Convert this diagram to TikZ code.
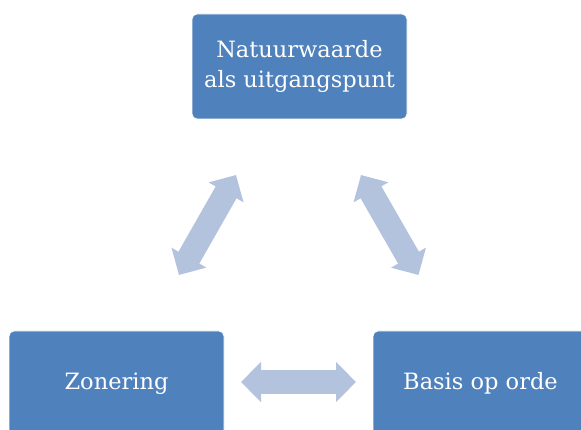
\documentclass[tikz,border=0pt]{standalone}
\usepackage{fontspec}
\setmainfont{DejaVu Serif}
\usetikzlibrary{arrows.meta}
\definecolor{boxblue}{HTML}{4F81BD}
\definecolor{arrowblue}{HTML}{B3C3DD}
\tikzset{
  stage/.style={fill=boxblue, draw=white, line width=0.8pt, rounded corners=5pt,
    minimum width=215pt, minimum height=105pt, text=white, align=center,
    font=\fontsize{22.5}{30}\selectfont},
  twoway/.style={draw=arrowblue, line width=24pt,
    {Triangle[width=39pt,length=20pt]}-{Triangle[width=39pt,length=20pt]}}
}
\begin{document}
\begin{tikzpicture}[x=1pt,y=-1pt]
\useasboundingbox (0,0) rectangle (581,430);
\node[stage] (natuur) at (299.5,66.5) {Natuurwaarde\\als uitgangspunt};
\node[stage] (zonering) at (116.5,383.5) {Zonering};
\node[stage] (basis) at (480.5,383.5) {Basis op orde};
% arrow ends
\coordinate (lt) at (236,175);
\coordinate (lb) at (179,275);
\coordinate (rt) at (361,175);
\coordinate (rb) at (418.5,275);
\coordinate (hl) at (241,382);
\coordinate (hr) at (356,382);
\draw[twoway] (lt) -- (lb);
\draw[twoway] (rt) -- (rb);
\draw[twoway] (hl) -- (hr);
\end{tikzpicture}
\end{document}
